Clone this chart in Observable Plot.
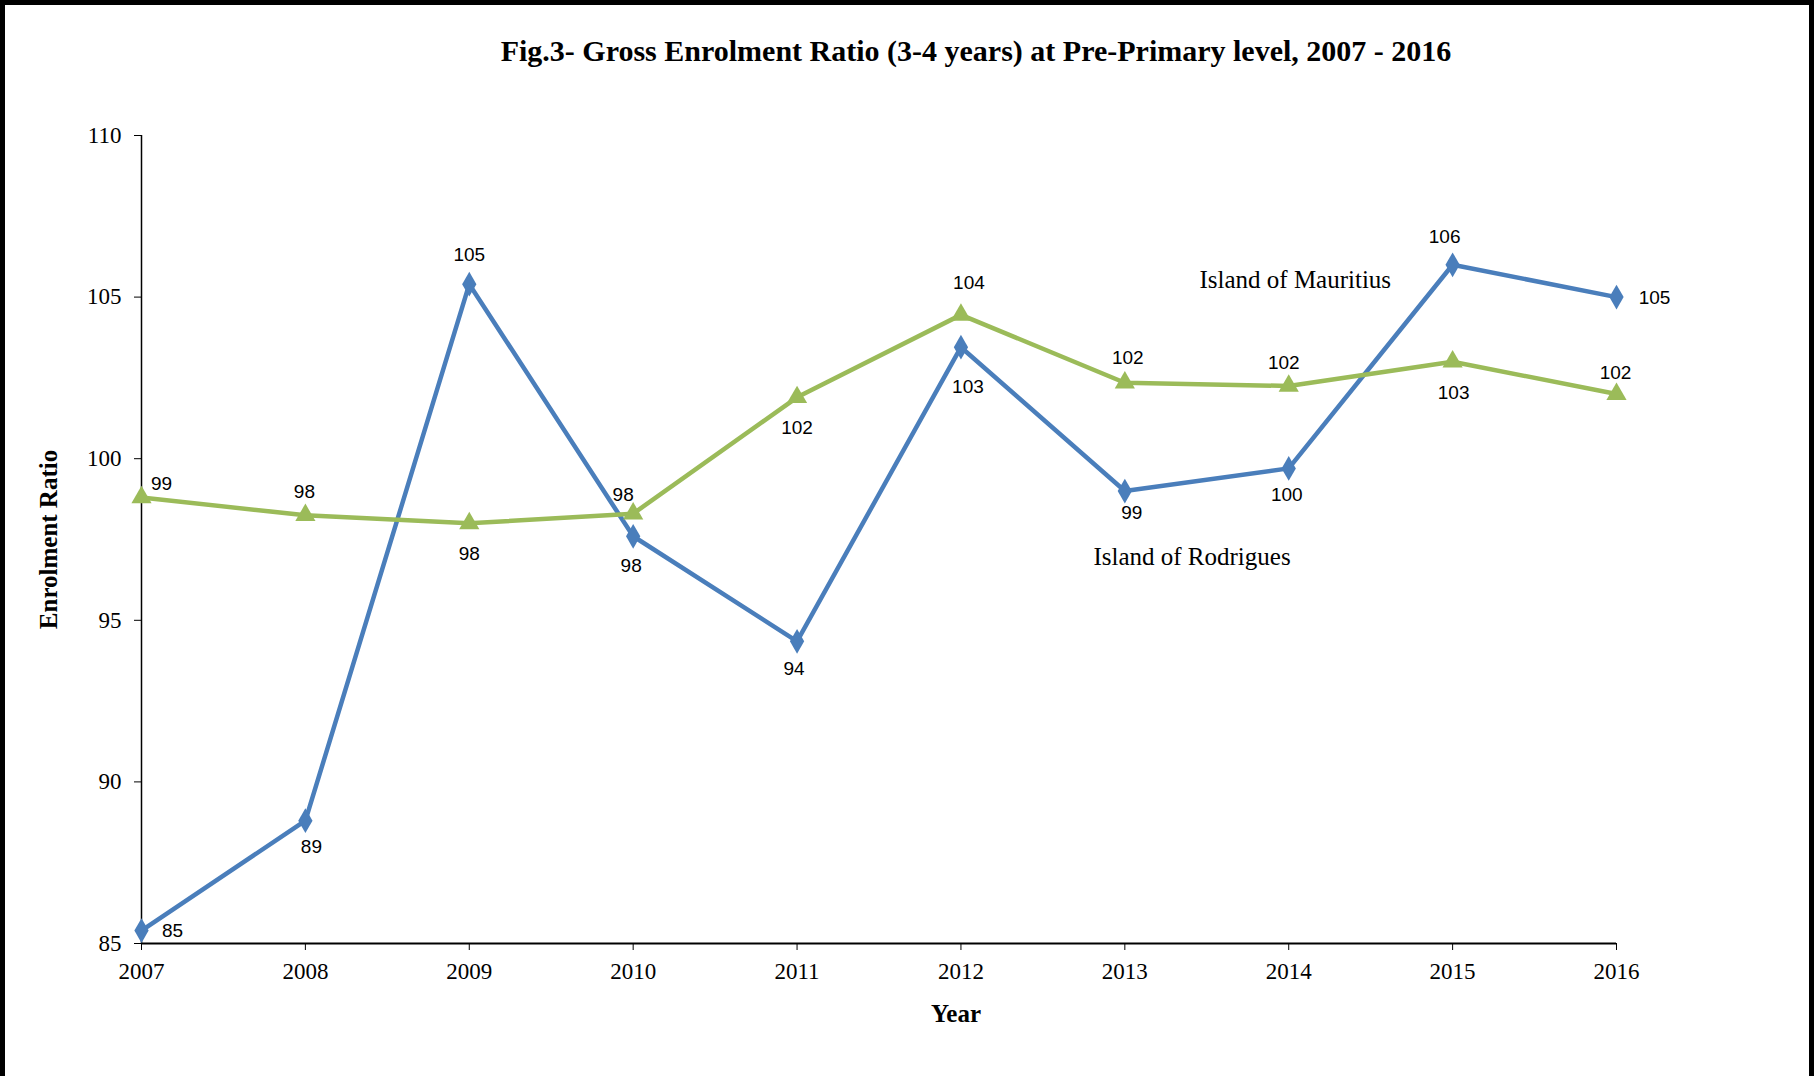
<!DOCTYPE html>
<html>
<head>
<meta charset="utf-8">
<script src="https://cdn.jsdelivr.net/npm/d3@7"></script>
<script src="https://cdn.jsdelivr.net/npm/@observablehq/plot@0.6"></script>
<style>
  html, body { margin: 0; padding: 0; background: #fff; }
  #frame {
    width: 1814px; height: 1076px; box-sizing: border-box;
    border-top: 5px solid #000; border-left: 5px solid #000; border-right: 5px solid #000;
    position: relative; overflow: hidden; background: #fff;
  }
  #title {
    height: 100px; box-sizing: border-box; padding-top: 29px; padding-left: 138px;
    text-align: center; font-family: "Liberation Serif", "Times New Roman", serif;
    font-weight: bold; font-size: 30px; color: #000;
  }
  svg g[aria-label="y-axis label"] text { font-weight: bold; font-size: 25px; }
</style>
</head>
<body>
<div id="frame">
  <div id="title">Fig.3- Gross Enrolment Ratio (3-4 years) at Pre-Primary level, 2007 - 2016</div>
  <div id="chart"></div>
</div>
<script>
// ---- data ----
const years = [2007, 2008, 2009, 2010, 2011, 2012, 2013, 2014, 2015, 2016];
const mauritius = [85.4, 88.8, 105.4, 97.6, 94.35, 103.45, 99.0, 99.7, 106.0, 105.0];
const rodrigues = [98.8, 98.25, 98.0, 98.3, 101.9, 104.45, 102.35, 102.25, 103.0, 102.0];
const yTicks = [85, 90, 95, 100, 105, 110];
const seriesNames = ["Island of Mauritius", "Island of Rodrigues"];
const xTitle = "Year";
const yTitle = "Enrolment Ratio";
// series name annotations, placed in data space
const seriesLabelYear = [2014.04, 2013.41];
const seriesLabelValue = [105.52, 96.96];

// ---- label placement (style, pixel offsets) ----
const mauritiusLabelOffsets = [[31, 0], [6, 26], [0, -29], [-2, 30], [-3, 28], [7, 40], [7, 22], [-2, 27], [-8, -28], [38, 1]];
const rodriguesLabelOffsets = [[20, -14], [-1, -23], [0, 31], [-10, -19], [0, 31], [8, -32], [3, -25], [-5, -23], [1, 31], [-1, -21]];

const blue = "#4A7EBB";
const green = "#9BBB59";

const mData = years.map((y, i) => ({year: y, value: mauritius[i]}));
const rData = years.map((y, i) => ({year: y, value: rodrigues[i]}));

function labelMarks(data, offsets) {
  return data.map((d, i) => Plot.text([d], {
    x: "year", y: "value", text: d => String(Math.round(d.value)),
    dx: offsets[i][0], dy: offsets[i][1],
    fontFamily: "'Liberation Sans', Arial, sans-serif", fontSize: 19, fill: "#000"
  }));
}

const chart = Plot.plot({
  width: 1804,
  height: 971,
  marginTop: 30,
  marginBottom: 133,
  marginLeft: 136,
  marginRight: 193,
  style: { fontFamily: "'Liberation Serif', 'Times New Roman', serif", fontSize: "23px", color: "#000", background: "transparent" },
  x: { domain: [2007, 2016] },
  y: { domain: [85, 110] },
  marks: [
    Plot.axisX({ ticks: years, tickFormat: d => String(d), tickSize: 7, tickPadding: 12,
      label: null, fontSize: 23 }),
    Plot.axisY({ ticks: yTicks, tickSize: 7, tickPadding: 13,
      label: yTitle, labelAnchor: "center", labelArrow: "none", labelOffset: 102, fontSize: 23 }),
    Plot.text([xTitle], { text: d => d, frameAnchor: "bottom", dx: 77, dy: 78,
      fontWeight: "bold", fontSize: 25, fill: "#000" }),
    Plot.ruleY([85], { stroke: "#000", strokeWidth: 2 }),
    Plot.ruleX([2007], { stroke: "#000", strokeWidth: 1.5 }),
    Plot.line(mData, { x: "year", y: "value", stroke: blue, strokeWidth: 4.5 }),
    Plot.line(rData, { x: "year", y: "value", stroke: green, strokeWidth: 4.5 }),
    Plot.dot(mData, { x: "year", y: "value", symbol: "diamond", r: 7.5, fill: blue, stroke: "none" }),
    Plot.dot(rData, { x: "year", y: "value", symbol: "triangle", r: 7.5, fill: green, stroke: "none" }),
    ...labelMarks(mData, mauritiusLabelOffsets),
    ...labelMarks(rData, rodriguesLabelOffsets),
    Plot.text(seriesNames.map((n, i) => ({name: n, year: seriesLabelYear[i], value: seriesLabelValue[i]})), {
      x: "year", y: "value", text: "name", fontSize: 25, fill: "#000",
      fontFamily: "'Liberation Serif', 'Times New Roman', serif"
    })
  ]
});
document.getElementById("chart").appendChild(chart);
</script>
</body>
</html>
